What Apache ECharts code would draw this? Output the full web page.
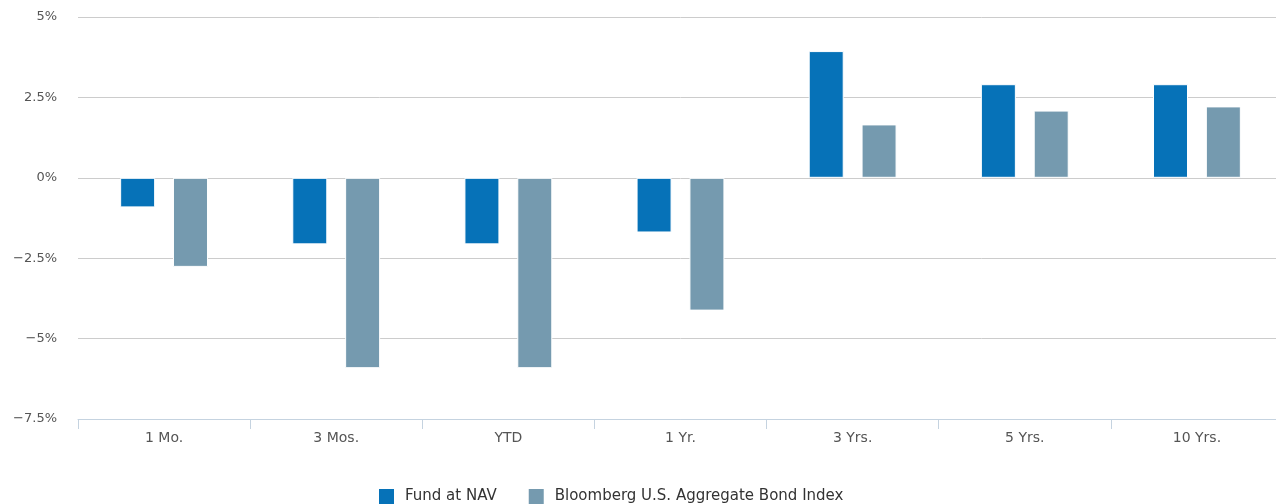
<!DOCTYPE html>
<html lang="en">
  <head>
    <meta charset="UTF-8" />
    <title>Fund vs Index returns</title>
    <style>
      html, body { margin: 0; padding: 0; background: #fff; overflow: hidden; }
      /* plot runs slightly past the right edge of the window, as in the source */
      #main { width: 1283px; height: 504px; }
    </style>
  </head>
  <body>
    <div id="main"></div>
    <script src="https://cdn.jsdelivr.net/npm/echarts@6/dist/echarts.min.js"></script>
    <script>
      var periods = ["1 Mo.", "3 Mos.", "YTD", "1 Yr.", "3 Yrs.", "5 Yrs.", "10 Yrs."];
      var fundNav = [-0.92, -2.07, -2.07, -1.7, 3.94, 2.91, 2.91];
      var aggIndex = [-2.77, -5.92, -5.92, -4.13, 1.66, 2.09, 2.22];
      var yTicks = [-7.5, -5, -2.5, 0, 2.5, 5];

      var chart = echarts.init(document.getElementById("main"));
      var font = "DejaVu Sans";

      chart.setOption({
        animation: false,
        textStyle: { fontFamily: font },
        grid: { left: 78, top: 17, right: 0, height: 402 },
        legend: {
          top: 482,
          left: 372,
          itemWidth: 17,
          itemHeight: 17,
          itemGap: 30,
          icon: "rect",
          textStyle: { fontSize: 15, color: "#333", fontFamily: font, padding: [0, 0, 0, 5] },
          data: ["Fund at NAV", "Bloomberg U.S. Aggregate Bond Index"]
        },
        xAxis: {
          type: "category",
          data: periods,
          position: "bottom",
          axisLine: { onZero: false, lineStyle: { color: "#c5d3e0", width: 1 } },
          axisTick: { show: true, length: 10, lineStyle: { color: "#c5d3e0" } },
          axisLabel: { color: "#555", fontSize: 14, fontFamily: font, margin: 12 }
        },
        yAxis: {
          type: "value",
          min: yTicks[0],
          max: yTicks[yTicks.length - 1],
          interval: 2.5,
          axisLine: { show: false },
          axisTick: { show: false },
          splitLine: { lineStyle: { color: "#cccccc", width: 1 } },
          axisLabel: {
            color: "#555",
            fontSize: 13,
            fontFamily: font,
            margin: 21,
            formatter: function (v) {
              return String(v).replace("-", "\u2212") + "%";
            }
          }
        },
        series: [
          {
            name: "Fund at NAV",
            type: "bar",
            data: fundNav,
            barWidth: 35,
            barGap: "51%",
            itemStyle: { color: "#0672b8", borderColor: "#ffffff", borderWidth: 1 }
          },
          {
            name: "Bloomberg U.S. Aggregate Bond Index",
            type: "bar",
            data: aggIndex,
            barWidth: 35,
            itemStyle: { color: "#759aaf", borderColor: "#ffffff", borderWidth: 1 }
          }
        ]
      });
    </script>
  </body>
</html>
